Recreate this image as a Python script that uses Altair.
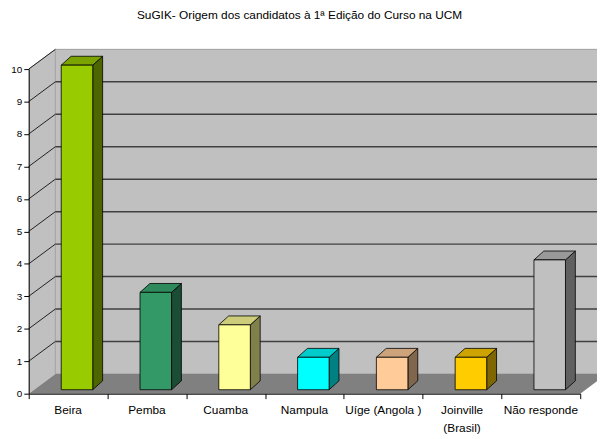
import altair as alt
import pandas as pd

# ---- data ----
categories = ["Beira", "Pemba", "Cuamba", "Nampula", "Uíge (Angola )", "Joinville\n(Brasil)", "Não responde"]
values = [10, 3, 2, 1, 1, 1, 4]
front_colors = ["#99CC00", "#339966", "#FFFF99", "#00FFFF", "#FFCC99", "#FFCC00", "#C0C0C0"]
top_colors = ["#7AA300", "#2E8A5C", "#CCCC7A", "#00CCCC", "#CCA37A", "#CCA300", "#999999"]
side_colors = ["#4D6600", "#1A4D33", "#80804D", "#008080", "#80664D", "#806600", "#606060"]
y_ticks = list(range(0, 11))
title_text = "SuGIK- Origem dos candidatos à 1ª Edição do Curso na UCM"

# ---- geometry (pixels -> data units) ----
W, H = 559, 329
N = len(categories)
YMAX = 10
ux = W / N
uy = H / YMAX
WALL_DX, WALL_DY = 27 / ux, 20 / uy
FRONT_DX, FRONT_DY = 9 / ux, 4 / uy
BAR_DX, BAR_DY = 10 / ux, 9 / uy
HALF = 0.2
FONT = "Liberation Sans"

xs = alt.Scale(domain=[0, N], nice=False, zero=False)
ys = alt.Scale(domain=[0, YMAX], nice=False, zero=False)
XA = alt.Axis(values=list(range(N + 1)), labels=False, grid=False, tickSize=5,
              domainColor="black", tickColor="black", title=None, zindex=1)
YA = alt.Axis(values=y_ticks, grid=False, tickSize=5, labelFontSize=10,
              labelFont=FONT, labelColor="black", labelPadding=2,
              domainColor="black", tickColor="black", title=None, zindex=1)


def X(f):
    return alt.X(f, scale=xs, axis=XA)


def Y(f):
    return alt.Y(f, scale=ys, axis=YA)


# left side wall
left_wall = pd.DataFrame({"x": [0, WALL_DX], "y": [0, WALL_DY], "y2": [YMAX, YMAX + WALL_DY]})
lw = alt.Chart(left_wall).mark_area(color="#C0C0C0").encode(x=X("x:Q"), y=Y("y:Q"), y2="y2:Q")

# back wall
back_wall = pd.DataFrame({"x": [WALL_DX], "x2": [N + WALL_DX + 1], "y": [WALL_DY], "y2": [YMAX + WALL_DY]})
bw = alt.Chart(back_wall).mark_rect(color="#C0C0C0", stroke="#A0A0A0", strokeWidth=1).encode(
    x=X("x:Q"), x2="x2:Q", y=Y("y:Q"), y2="y2:Q")

# left wall top edge
lw_top = pd.DataFrame({"x": [0], "x2": [WALL_DX], "y": [YMAX], "y2": [YMAX + WALL_DY]})
lwt = alt.Chart(lw_top).mark_rule(color="#A0A0A0", strokeWidth=1).encode(
    x=X("x:Q"), x2="x2:Q", y=Y("y:Q"), y2="y2:Q")

# floor
floor = pd.DataFrame({"y": [0, WALL_DY], "x": [0, WALL_DX], "x2": [N, N + WALL_DX]})
fl = alt.Chart(floor).mark_area(color="#808080", orient="horizontal").encode(
    y=Y("y:Q"), x=X("x:Q"), x2="x2:Q")

# gridlines on back wall
grid_df = pd.DataFrame({"v": [v + WALL_DY for v in y_ticks[1:-1]], "x": WALL_DX, "x2": N + WALL_DX + 1})
gr = alt.Chart(grid_df).mark_rule(color="#404040", strokeWidth=1.5).encode(
    x=X("x:Q"), x2="x2:Q", y=Y("v:Q"))

# diagonal connectors on the left wall
conn_df = pd.DataFrame({"y": y_ticks[1:], "y2": [v + WALL_DY for v in y_ticks[1:]], "x": 0.0, "x2": WALL_DX})
cn = alt.Chart(conn_df).mark_rule(color="#202020", strokeWidth=1).encode(
    x=X("x:Q"), x2="x2:Q", y=Y("y:Q"), y2="y2:Q")

# bars
rows_front, rows_side, rows_top = [], [], []
for i, (c, v) in enumerate(zip(categories, values)):
    l = i + 0.5 - HALF + FRONT_DX
    r = i + 0.5 + HALF + FRONT_DX
    b = FRONT_DY
    t = v + FRONT_DY
    rows_front.append({"cat": c, "x": l, "x2": r, "y": b, "y2": t, "col": front_colors[i]})
    rows_side.append({"cat": c, "x": r, "y": b, "y2": t, "col": side_colors[i]})
    rows_side.append({"cat": c, "x": r + BAR_DX, "y": b + BAR_DY, "y2": t + BAR_DY, "col": side_colors[i]})
    rows_top.append({"cat": c, "y": t, "x": l, "x2": r, "col": top_colors[i]})
    rows_top.append({"cat": c, "y": t + BAR_DY, "x": l + BAR_DX, "x2": r + BAR_DX, "col": top_colors[i]})

side = alt.Chart(pd.DataFrame(rows_side)).mark_area(stroke="black", strokeWidth=0.8).encode(
    x=X("x:Q"), y=Y("y:Q"), y2="y2:Q",
    color=alt.Color("col:N", scale=None), detail="cat:N")
top = alt.Chart(pd.DataFrame(rows_top)).mark_area(orient="horizontal", stroke="black", strokeWidth=0.8).encode(
    y=Y("y:Q"), x=X("x:Q"), x2="x2:Q",
    color=alt.Color("col:N", scale=None), detail="cat:N")
front = alt.Chart(pd.DataFrame(rows_front)).mark_rect(stroke="black", strokeWidth=0.8).encode(
    x=X("x:Q"), x2="x2:Q", y=Y("y:Q"), y2="y2:Q",
    color=alt.Color("col:N", scale=None))

# category labels
lab_df = pd.DataFrame({"cat": categories, "x": [i + 0.5 for i in range(N)], "y": 0.0})
labels = alt.Chart(lab_df).mark_text(baseline="top", dy=12, fontSize=12, font=FONT, color="black",
                                     lineBreak="\n", lineHeight=18).encode(
    x=X("x:Q"), y=Y("y:Q"), text="cat:N")

chart = alt.layer(lw, bw, lwt, fl, gr, cn, side, top, front, labels).properties(
    width=W, height=H,
    title=alt.Title(title_text, fontSize=12, font=FONT, fontWeight="normal", color="black",
                    anchor="middle", offset=27, dx=-5),
    autosize=alt.AutoSizeParams(type="none"),
    padding={"left": 21, "top": 59, "right": 17, "bottom": 43},
).configure_view(stroke=None).configure(background="white")

chart.save("out.html", embed_options={"renderer": "svg", "actions": False})
